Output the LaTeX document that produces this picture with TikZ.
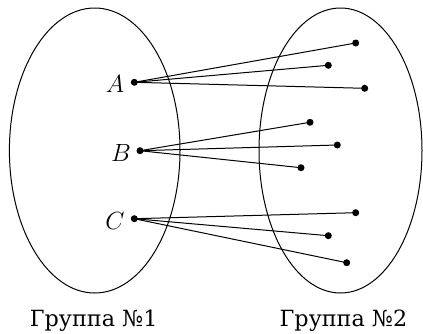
\documentclass[tikz,border=0pt]{standalone}
\usepackage{fontspec}
\setmainfont{DejaVu Serif}
\begin{document}
\begin{tikzpicture}[x=1pt,y=-1pt,
  setell/.style={draw,line width=1pt},
  pt/.style={circle,fill,inner sep=0pt,minimum size=7pt},
  link/.style={line width=1pt},
  lbl/.style={font=\fontsize{24}{28}\selectfont},
  grouplabel/.style={font=\fontsize{22.3}{26}\selectfont}]
\useasboundingbox (0,0) rectangle (423,333);
\draw[setell] (94.7,150.5) ellipse [x radius=85.3, y radius=142.5];
\draw[setell] (340.5,150.5) ellipse [x radius=81.5, y radius=142.5];
\node[pt] (A) at (134.3,82.3) {};
\node[pt] (B) at (140,150.7) {};
\node[pt] (C) at (134.3,218.7) {};
\node[lbl] (lA) at (115,84) {$A$};
\node[lbl] (lB) at (121,153) {$B$};
\node[lbl] (lC) at (115,221) {$C$};
\node[pt] (a1) at (355.7,43) {};
\node[pt] (a2) at (328.3,65.3) {};
\node[pt] (a3) at (364.7,88.3) {};
\node[pt] (b1) at (310,122.3) {};
\node[pt] (b2) at (337.3,145) {};
\node[pt] (b3) at (301,167.7) {};
\node[pt] (c1) at (355.7,212.7) {};
\node[pt] (c2) at (328.3,235.7) {};
\node[pt] (c3) at (346.7,262.7) {};
\foreach \t in {a1,a2,a3} \draw[link] (A.center) -- (\t.center);
\foreach \t in {b1,b2,b3} \draw[link] (B.center) -- (\t.center);
\foreach \t in {c1,c2,c3} \draw[link] (C.center) -- (\t.center);
\node[grouplabel] (g1) at (93.7,321) {Группа №1};
\node[grouplabel] (g2) at (343.5,321) {Группа №2};
\end{tikzpicture}
\end{document}
